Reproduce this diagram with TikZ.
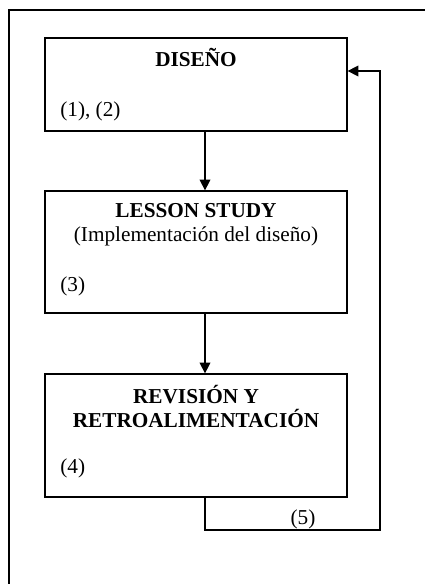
\documentclass[tikz,border=0pt,12pt]{standalone}
\usepackage{fontspec}
\setmainfont{Liberation Serif}
\usetikzlibrary{arrows.meta, positioning, calc}
\tikzstyle{box} = [draw, rectangle, line width=0.75pt, minimum width=181.2pt]
\tikzstyle{arrow} = [line width=0.75pt, -{Triangle[length=6.5pt, width=6.5pt]}]
\tikzstyle{title} = [font=\fontsize{12.75}{15}\selectfont\bfseries, anchor=base, inner sep=0pt]
\tikzstyle{note} = [font=\fontsize{12.75}{15}\selectfont, anchor=base west, inner sep=0pt]

\begin{document}
\begin{tikzpicture}[x=0.6pt, y=-0.6pt]
    \useasboundingbox (0,0) rectangle (425,584);
    % Outer frame (cut by the page)
    \draw[line width=0.75pt] (9,584) -- (9,10) -- (425,10);

    % Stages
    \node[box, minimum height=55.8pt] (dis) at (196,84.5) {};
    \node[box, minimum height=73.2pt] (les) at (196,252) {};
    \node[box, minimum height=73.8pt] (rev) at (196,435.5) {};

    % Texts of the stages
    \node[title] (disT) at (196,67) {DISEÑO};
    \node[note] (disN) at (60,117) {(1), (2)};
    \node[title] (lesT) at (196,218) {LESSON STUDY};
    \node[note, anchor=base] (lesS) at (196,242) {(Implementación del diseño)};
    \node[note] (lesN) at (60,291) {(3)};
    \node[title] (revT) at (196,403) {REVISIÓN Y};
    \node[title] (revU) at (196,427) {RETROALIMENTACIÓN};
    \node[note] (revN) at (60,473) {(4)};

    % Flow
    \coordinate (ax) at (205,0);
    \coordinate (lb) at (205,530);
    \coordinate (rb) at (380,530);
    \coordinate (rt) at (380,71);
    \draw[arrow] (dis.south -| ax) -- (les.north -| ax);
    \draw[arrow] (les.south -| ax) -- (rev.north -| ax);
    \draw[arrow] (rev.south -| ax) -- (lb) -- (rb) node[note, pos=0.56, anchor=south, inner sep=0.5pt] (cinco) {(5)} -- (rt) -- (dis.east |- rt);
\end{tikzpicture}
\end{document}
